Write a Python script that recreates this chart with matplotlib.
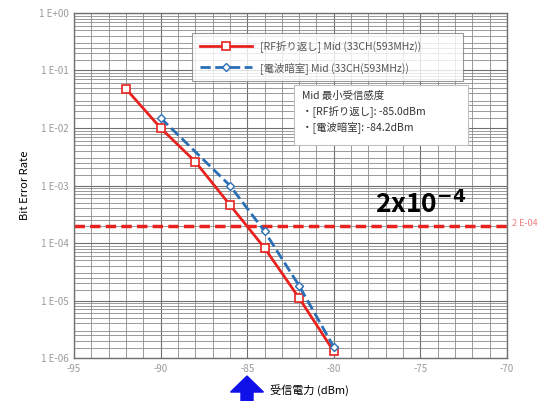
import matplotlib
matplotlib.use('Agg')
import matplotlib.pyplot as plt
from matplotlib.patches import Rectangle, FancyArrow
from matplotlib.ticker import LogLocator, MultipleLocator, FixedLocator

plt.rcParams['font.family'] = ['Noto Sans CJK JP', 'DejaVu Sans']

# data
rf_x = [-92, -90, -88, -86, -84, -82, -80]
rf_ber = [4.8e-2, 1.0e-2, 2.6e-3, 4.6e-4, 8.2e-5, 1.1e-5, 1.3e-6]
ane_x = [-90, -86, -84, -82, -80]
ane_ber = [1.5e-2, 1.0e-3, 1.6e-4, 1.8e-5, 1.55e-6]
threshold = 2e-4
xticks = [-95, -90, -85, -80, -75, -70]
ydecades = [1e-6, 1e-5, 1e-4, 1e-3, 1e-2, 1e-1, 1e0]
ylabels = ['1 E-06', '1 E-05', '1 E-04', '1 E-03', '1 E-02', '1 E-01', '1 E+00']

red = '#e8231f'
blue = '#2a6fb5'
gray = '#9a9a9a'

fig = plt.figure(figsize=(5.47, 4.01), dpi=100)
ax = fig.add_axes([0.1353, 0.1072, 0.7916, 0.8604])
ax.set_yscale('log')
ax.set_xlim(-95, -70)
ax.set_ylim(1e-6, 1)

ax.xaxis.set_major_locator(FixedLocator(xticks))
ax.xaxis.set_minor_locator(MultipleLocator(1))
ax.yaxis.set_major_locator(FixedLocator(ydecades))
ax.yaxis.set_minor_locator(LogLocator(base=10, subs=[1.5, 2, 2.5, 3, 4, 5, 6, 7, 8, 9], numticks=20))
ax.set_xticklabels([str(v) for v in xticks], color=gray, fontsize=7)
ax.set_yticklabels(ylabels, color=gray, fontsize=7)
ax.tick_params(which='both', length=0, pad=4)

ax.grid(True, which='major', color='#707070', linewidth=0.8)
ax.grid(True, which='minor', color='#8a8a8a', linewidth=0.6)
ax.set_axisbelow(True)
for s in ax.spines.values():
    s.set_color('#707070')
    s.set_linewidth(1.0)

l1, = ax.plot(rf_x, rf_ber, '-s', color=red, lw=2, ms=6, mfc='white', mec=red, mew=1.2,
              label='[RF折り返し] Mid (33CH(593MHz))')
l2, = ax.plot(ane_x, ane_ber, '--D', color=blue, lw=2, ms=4, mfc='white', mec=blue, mew=1.0,
              label='[電波暗室] Mid (33CH(593MHz))')
ax.axhline(threshold, color=red, lw=2.5, ls=(0, (3, 1.5)), zorder=1.5)

leg = ax.legend(handles=[l1, l2], loc='upper left', mode='expand',
                bbox_to_anchor=(0.261, 0.829, 0.649, 0.128),
                fontsize=7.5, frameon=True, fancybox=False, borderpad=0.7,
                labelspacing=0.9, handlelength=5.0, labelcolor='#555555')
leg.get_frame().set_edgecolor('#808080')
leg.get_frame().set_linewidth(0.8)

# sensitivity note box
ax.add_patch(Rectangle((0.508, 0.617), 0.402, 0.174, transform=ax.transAxes,
                       fc='white', ec='#c0c0c0', lw=0.8, zorder=4))
ax.text(0.527, 0.775, 'Mid 最小受信感度\n・[RF折り返し]: -85.0dBm\n・[電波暗室]: -84.2dBm',
        transform=ax.transAxes, fontsize=7.5, va='top', ha='left', color='#333333',
        linespacing=1.45, zorder=5)

ax.set_ylabel('Bit Error Rate', fontsize=8, labelpad=6)

fig.text(270 / 547, 1 - 390 / 401, '受信電力 (dBm)', fontsize=8, va='center', ha='left')
fig.text(375 / 547, 1 - 205 / 401, r'2x10$^{\mathbf{-4}}$', fontsize=19, fontweight='bold',
         va='center', ha='left')
fig.text(512 / 547, 1 - 224 / 401, '2 E-04', fontsize=6.5, color='#f08080', va='center', ha='left')

fig.patches.append(FancyArrow(
    247 / 547, 0.0, 0, (401 - 376) / 401, width=0.022, head_width=0.06, head_length=0.04,
    length_includes_head=True, transform=fig.transFigure, color='#1010e8', figure=fig))

fig.savefig('out.png', dpi=100, facecolor='white')
